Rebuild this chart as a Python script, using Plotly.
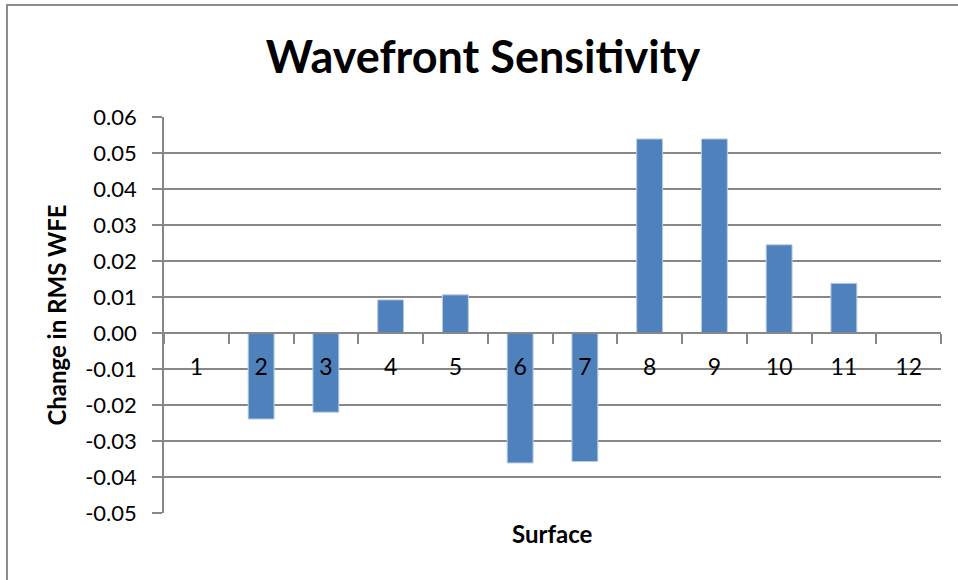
import plotly.graph_objects as go

surfaces = ["1", "2", "3", "4", "5", "6", "7", "8", "9", "10", "11", "12"]
rms_change = [0.0, -0.0239, -0.0220, 0.0092, 0.0106, -0.0361, -0.0357, 0.0539, 0.0539, 0.0245, 0.0138, 0.0]
y_ticks = [0.06, 0.05, 0.04, 0.03, 0.02, 0.01, 0.0, -0.01, -0.02, -0.03, -0.04, -0.05]
y_tick_text = ["%.2f" % v for v in y_ticks]

W, H = 958, 580
# plot area in pixels: x 164..941, y 117..513
L, T = 164, 117
R = W - 941
B = H - 513
pw, ph = W - L - R, H - T - B
ymin, ymax = -0.05, 0.06

def px_x(sx):
    return (sx - L) / pw

def px_y(sy):
    return (H - B - sy) / ph

FONT = "Lato"
GRID = "#878787"

fig = go.Figure()
fig.add_trace(go.Bar(
    x=surfaces, y=rms_change,
    marker=dict(color="#4F81BD", line=dict(color="#B9CDE5", width=1)),
    showlegend=False,
))

fig.update_layout(
    width=W, height=H,
    margin=dict(l=L, r=R, t=T, b=B, autoexpand=False),
    paper_bgcolor="white", plot_bgcolor="white",
    bargap=0.6,
    title=dict(text="<b>Wavefront Sensitivity</b>", font=dict(family=FONT, size=45, color="black"),
               x=483 / W, xref="container", xanchor="center",
               y=1 - 57 / H, yref="container", yanchor="middle"),
    xaxis=dict(
        type="category", anchor="free", position=(0 - ymin) / (ymax - ymin),
        automargin=False,
        showline=True, linecolor=GRID, linewidth=1.5,
        ticks="outside", ticklen=10, tickcolor=GRID, tickwidth=1.5, tickson="boundaries",
        ticklabelstandoff=14,
        tickfont=dict(family=FONT, size=23, color="black"),
        showgrid=False, zeroline=False,
    ),
    yaxis=dict(
        range=[ymin, ymax], tickvals=y_ticks, ticktext=y_tick_text,
        automargin=False,
        showline=True, linecolor=GRID, linewidth=1.5,
        ticks="outside", ticklen=10, tickcolor=GRID, tickwidth=1.5,
        ticklabelstandoff=11,
        showgrid=True, gridcolor=GRID, gridwidth=1.5,
        zeroline=False,
        tickfont=dict(family=FONT, size=22, color="black"),
        title=dict(text="<b>Change in RMS WFE</b>", font=dict(family=FONT, size=24, color="black"), standoff=12),
    ),
    annotations=[dict(
        text="<b>Surface</b>", xref="paper", yref="paper",
        x=0.5, y=px_y(533), xanchor="center", yanchor="middle", showarrow=False,
        font=dict(family=FONT, size=24, color="black"),
    )],
    shapes=[dict(
        type="rect", xref="paper", yref="paper",
        x0=px_x(7), x1=px_x(990), y0=px_y(620), y1=px_y(5),
        line=dict(color="#8C8C8C", width=2), fillcolor="rgba(0,0,0,0)", layer="below",
    )],
)

fig.write_html(
    "out.html",
    config={"displayModeBar": False},
    post_script="document.body.style.margin='0';document.body.style.padding='0';",
)
